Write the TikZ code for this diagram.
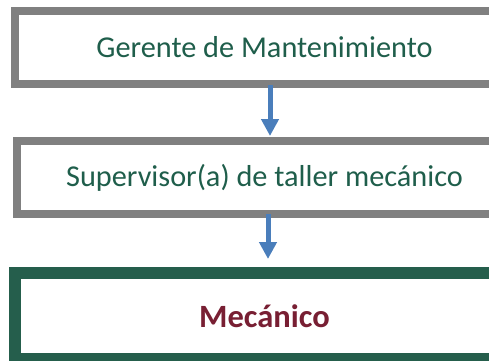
\documentclass[tikz,border=0pt]{standalone}
\usepackage{fontspec}
\setmainfont{Carlito}
\usetikzlibrary{
	arrows.meta,
	calc
}
\definecolor{bordergray}{HTML}{808080}
\definecolor{darkgreen}{HTML}{255E4C}
\definecolor{textgreen}{HTML}{1F5E4B}
\definecolor{wine}{HTML}{781F33}
\definecolor{arrowblue}{HTML}{4A7EBB}
\tikzset{
	level box/.style={
		draw=bordergray,
		line width=8bp,
		fill=white,
		minimum width=499bp,
		minimum height=73bp,
		inner sep=0pt,
		text=textgreen,
		font=\fontsize{30.3bp}{34bp}\selectfont
	},
	last box/.style={
		level box,
		draw=darkgreen,
		line width=12bp,
		minimum height=86bp,
		text=wine,
		font=\fontsize{32.5bp}{36bp}\selectfont\bfseries
	},
	flow/.style={
		arrowblue,
		line width=5bp,
		-{Triangle[width=17bp,length=17bp]}
	}
}

\begin{document}
\begin{tikzpicture}[x=1bp,y=-1bp]
	\useasboundingbox (0,0) rectangle (489,360);
	\clip (0,0) rectangle (489,360);
	\node[level box] (gerente) at (264.5,47.5) {Gerente de Mantenimiento};
	\node[level box, minimum width=495bp] (supervisor) at (264.5,177.5) {Supervisor(a) de taller mecánico};
	\node[last box] (mecanico) at (264.5,316) {Mecánico};
	% flechas
	\draw[flow] ($(gerente.south)+(5.5,-3)$) -- ($(supervisor.north)+(5.5,-1)$);
	\draw[flow] ($(supervisor.south)+(3.5,-4)$) -- ($(mecanico.north)+(3.5,-8)$);
\end{tikzpicture}
\end{document}
